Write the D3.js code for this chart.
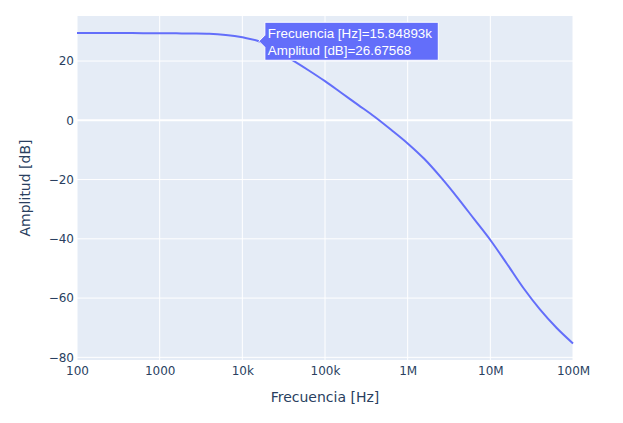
<!DOCTYPE html>
<html>
<head>
<meta charset="utf-8">
<script src="https://cdn.jsdelivr.net/npm/d3@7"></script>
<style>
  body { margin: 0; background: #fff; }
  text { font-family: "DejaVu Sans", Verdana, sans-serif; }
</style>
</head>
<body>
<svg id="drawing_region"></svg>
<script>
// frequency points: log10 exponents, 0.2 steps from 100 Hz to 100 MHz
const logFreq = [2.0, 2.2, 2.4, 2.6, 2.8, 3.0, 3.2, 3.4, 3.6, 3.8,
                 4.0, 4.2, 4.4, 4.6, 4.8, 5.0, 5.2, 5.4, 5.6, 5.8,
                 6.0, 6.2, 6.4, 6.6, 6.8, 7.0, 7.2, 7.4, 7.6, 7.8, 8.0];
const amplitude = [29.5, 29.5, 29.5, 29.45, 29.4, 29.4, 29.35, 29.3, 29.2, 28.8,
                   28.0, 26.67568, 23.6, 20.4, 16.9, 13.2, 9.2, 5.2, 1.2, -3.2,
                   -7.8, -13.0, -19.2, -26.0, -33.2, -40.4, -48.4, -56.6, -63.8, -70.0, -75.3];
const xTicks = [1e2, 1e3, 1e4, 1e5, 1e6, 1e7, 1e8];
const xTickLabels = ["100", "1000", "10k", "100k", "1M", "10M", "100M"];
const yTicks = [20, 0, -20, -40, -60, -80];
const hoverIndex = 11;
const hoverLines = ["Frecuencia [Hz]=15.84893k", "Amplitud [dB]=26.67568"];

const data = logFreq.map((e, i) => ({ f: Math.pow(10, e), a: amplitude[i] }));

const width = 623, height = 423;
const margin = { top: 16, right: 50, bottom: 63, left: 77 };
const innerW = width - margin.left - margin.right;
const innerH = height - margin.top - margin.bottom;

const svg = d3.select("#drawing_region")
    .attr("width", width)
    .attr("height", height);

const chart = svg.append("g")
    .attr("transform", `translate(${margin.left}, ${margin.top})`);

const xscale = d3.scaleLog().domain([1e2, 1e8]).range([0, innerW]);
const yscale = d3.scaleLinear().domain([-80.9, 35.2]).range([innerH, 0]);

chart.append("rect")
    .attr("width", innerW)
    .attr("height", innerH)
    .attr("fill", "#e5ecf6");

// grid
chart.selectAll(".xgrid")
    .data(xTicks)
    .enter()
    .append("line")
    .attr("x1", d => xscale(d)).attr("x2", d => xscale(d))
    .attr("y1", 0).attr("y2", innerH)
    .attr("stroke", "#fff").attr("stroke-width", 1);

chart.selectAll(".ygrid")
    .data(yTicks)
    .enter()
    .append("line")
    .attr("x1", 0).attr("x2", innerW)
    .attr("y1", d => yscale(d)).attr("y2", d => yscale(d))
    .attr("stroke", "#fff")
    .attr("stroke-width", d => d === 0 ? 2 : 1);

// axes (labels only, plotly style)
const xaxis = d3.axisBottom(xscale)
    .tickValues(xTicks)
    .tickFormat((d, i) => xTickLabels[i])
    .tickSize(0)
    .tickPadding(6);

const yaxis = d3.axisLeft(yscale)
    .tickValues(yTicks)
    .tickFormat(d => d < 0 ? "\u2212" + Math.abs(d) : d)
    .tickSize(0)
    .tickPadding(3);

const xg = chart.append("g")
    .attr("transform", `translate(0, ${innerH})`)
    .call(xaxis);
const yg = chart.append("g").call(yaxis);

[xg, yg].forEach(g => {
    g.select(".domain").remove();
    g.selectAll("text")
        .attr("fill", "#2a3f5f")
        .style("font-size", "12px")
        .style("font-family", "'DejaVu Sans', Verdana, sans-serif");
});

// line
const line = d3.line()
    .x(d => xscale(d.f))
    .y(d => yscale(d.a))
    .curve(d3.curveMonotoneX);

chart.append("path")
    .datum(data)
    .attr("d", line)
    .attr("fill", "none")
    .attr("stroke", "#636efa")
    .attr("stroke-width", 2)
    .attr("stroke-linejoin", "round");

// axis titles
svg.append("text")
    .attr("x", margin.left + innerW / 2)
    .attr("y", 402)
    .attr("text-anchor", "middle")
    .attr("fill", "#2a3f5f")
    .style("font-size", "14px")
    .text("Frecuencia [Hz]");

svg.append("text")
    .attr("transform", `translate(30, ${margin.top + innerH / 2}) rotate(-90)`)
    .attr("text-anchor", "middle")
    .attr("fill", "#2a3f5f")
    .style("font-size", "14px")
    .text("Amplitud [dB]");

// hover label
const hp = data[hoverIndex];
const hx = xscale(hp.f), hy = yscale(hp.a);
const hover = chart.append("g").attr("transform", `translate(${hx}, ${hy})`);
const hpath = hover.append("path")
    .attr("fill", "#636efa")
    .attr("stroke", "#fff")
    .attr("stroke-width", 1);
const htext = hover.append("text")
    .attr("fill", "#fff")
    .style("font-family", "Arial, 'Liberation Sans', sans-serif")
    .style("font-size", "13.4px");
htext.selectAll("tspan")
    .data(hoverLines)
    .enter()
    .append("tspan")
    .attr("x", 9)
    .attr("y", (d, i) => -3.5 + i * 17)
    .text(d => d);
const bw = htext.node().getBBox().width + 6;
const bh = 38;
hpath.attr("d", `M0,0L6,-6V${-bh / 2}H${6 + bw + 3}V${bh / 2}H6V6Z`);
</script>
</body>
</html>
